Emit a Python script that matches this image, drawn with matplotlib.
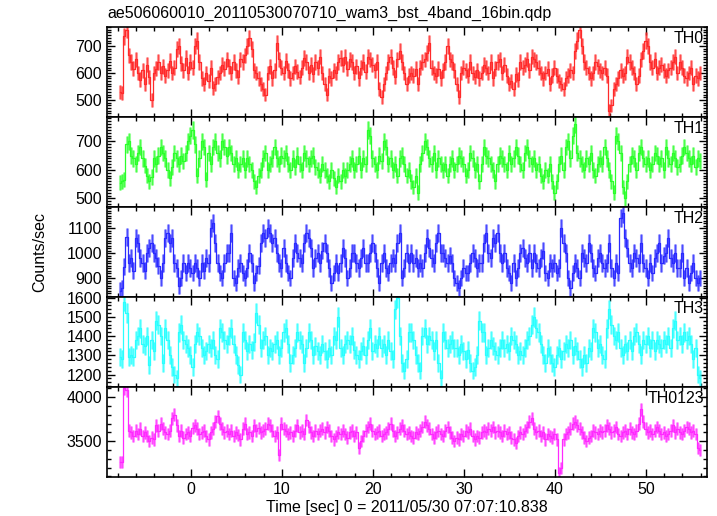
import matplotlib
matplotlib.use("Agg")
import matplotlib.pyplot as plt
from matplotlib.ticker import MultipleLocator
import numpy as np

plt.rcParams["font.family"] = ["Liberation Sans", "DejaVu Sans"]

title = "ae506060010_20110530070710_wam3_bst_4band_16bin.qdp"
xlabel = "Time [sec] 0 = 2011/05/30 07:07:10.838"
ylabel = "Counts/sec"
bands = ["TH0", "TH1", "TH2", "TH3", "TH0123"]

t_start = -7.8   # first bin centre [sec]
bin_width = 0.25  # 16 x 1/64 s

th0 = [
    530, 525, 735, 760, 665, 640, 615, 650, 600, 575, 610, 560, 630, 585, 500, 600,
    615, 640, 600, 625, 590, 610, 645, 600, 620, 690, 700, 635, 610, 655, 600, 640,
    620, 700, 720, 640, 580, 560, 600, 570, 620, 545, 560, 585, 600, 630, 615, 650,
    625, 600, 640, 610, 585, 650, 640, 665, 700, 730, 690, 610, 600, 580, 560, 540,
    520, 600, 625, 580, 610, 710, 650, 620, 600, 645, 610, 580, 600, 625, 605, 585,
    620, 655, 640, 600, 630, 595, 640, 620, 660, 600, 560, 520, 590, 580, 610, 600,
    640, 655, 630, 660, 615, 650, 640, 600, 625, 580, 620, 640, 605, 660, 650, 630,
    610, 640, 540, 510, 560, 600, 640, 660, 620, 585, 650, 680, 640, 600, 560, 590,
    600, 590, 615, 560, 620, 640, 650, 675, 710, 620, 600, 590, 615, 580, 610, 640,
    700, 650, 640, 610, 560, 510, 600, 620, 610, 590, 640, 600, 585, 610, 580, 600,
    630, 620, 600, 640, 580, 615, 640, 650, 600, 630, 590, 560, 570, 540, 595, 575,
    640, 620, 630, 650, 610, 660, 650, 640, 620, 600, 580, 600, 615, 560, 590, 620,
    590, 570, 560, 540, 580, 590, 610, 600, 680, 720, 760, 700, 640, 620, 600, 580,
    600, 640, 625, 610, 600, 620, 590, 460, 480, 540, 560, 580, 610, 590, 600, 660,
    640, 620, 600, 560, 590, 650, 680, 720, 700, 640, 620, 650, 600, 620, 630, 610,
    590, 610, 620, 640, 660, 600, 640, 620, 590, 580, 600, 620, 560, 590, 580, 600,
]

th1 = [
    555, 560, 565, 690, 700, 650, 640, 620, 660, 680, 640, 615, 580, 560, 575, 640,
    620, 650, 680, 660, 640, 600, 570, 610, 660, 640, 620, 650, 630, 660, 700, 720,
    740, 690, 580, 640, 700, 680, 565, 660, 620, 680, 700, 660, 640, 700, 680, 650,
    680, 660, 620, 640, 600, 620, 640, 600, 640, 620, 600, 560, 540, 580, 600, 640,
    660, 600, 620, 640, 680, 640, 620, 650, 640, 660, 620, 600, 640, 610, 650, 620,
    600, 660, 640, 620, 640, 650, 610, 600, 580, 620, 600, 580, 560, 600, 570, 540,
    580, 560, 600, 580, 600, 620, 640, 600, 620, 650, 600, 640, 620, 740, 720, 640,
    620, 600, 650, 630, 700, 680, 620, 640, 600, 620, 580, 640, 650, 620, 580, 600,
    560, 540, 580, 520, 620, 660, 700, 680, 640, 620, 660, 600, 640, 620, 600, 620,
    580, 620, 640, 600, 620, 650, 640, 620, 580, 600, 660, 640, 600, 620, 560, 620,
    680, 650, 640, 620, 600, 560, 620, 650, 640, 620, 600, 660, 620, 640, 680, 650,
    620, 600, 660, 680, 640, 620, 640, 600, 620, 580, 560, 600, 580, 620, 560, 520,
    560, 620, 650, 600, 680, 700, 640, 720, 760, 660, 640, 620, 600, 640, 620, 660,
    600, 580, 620, 640, 620, 680, 640, 600, 560, 520, 720, 700, 660, 540, 500, 560,
    620, 650, 640, 600, 660, 680, 640, 620, 640, 600, 620, 660, 650, 620, 640, 600,
    680, 640, 620, 660, 640, 610, 620, 650, 680, 660, 640, 620, 650, 610, 640, 630,
]

th2 = [
    850, 860, 945, 1065, 960, 980, 930, 1060, 1040, 980, 960, 930, 1000, 1020, 1040, 1000,
    980, 950, 900, 960, 1060, 1080, 1040, 1060, 960, 940, 870, 900, 960, 920, 960, 940,
    920, 960, 940, 900, 960, 930, 980, 960, 1100, 1120, 1040, 960, 920, 900, 960, 1000,
    1000, 1080, 900, 880, 940, 960, 920, 900, 940, 1000, 960, 880, 920, 950, 1040, 1080,
    1060, 1100, 1080, 1040, 1060, 1000, 960, 940, 1020, 960, 920, 900, 980, 1040, 1000, 980,
    960, 1040, 1080, 1060, 1020, 940, 980, 1000, 960, 1010, 1040, 1000, 940, 880, 920, 960,
    920, 960, 1020, 980, 900, 940, 1000, 1000, 960, 940, 980, 1020, 960, 960, 1000, 1040,
    1000, 940, 880, 960, 1000, 940, 920, 960, 980, 960, 1040, 1080, 900, 940, 1000, 960,
    1000, 960, 980, 940, 960, 940, 1000, 1060, 1020, 980, 960, 1040, 1080, 1000, 1000, 980,
    960, 990, 960, 900, 880, 860, 900, 940, 920, 920, 960, 1000, 980, 940, 960, 960,
    1040, 1080, 1000, 980, 1060, 1040, 1080, 1000, 960, 1000, 940, 920, 880, 960, 900, 940,
    1000, 1020, 980, 960, 1000, 940, 1000, 960, 940, 980, 1010, 920, 900, 960, 940, 960,
    920, 940, 1100, 1040, 1000, 900, 860, 920, 960, 940, 900, 1000, 980, 960, 1040, 1000,
    940, 920, 980, 1000, 960, 940, 960, 1040, 940, 900, 960, 920, 1140, 1160, 1060, 1020,
    960, 940, 1000, 980, 960, 1040, 960, 940, 900, 960, 920, 980, 1000, 1040, 960, 990,
    1000, 1060, 980, 960, 1000, 940, 940, 1000, 900, 940, 880, 920, 960, 900, 880, 900,
]

th3 = [
    1290, 1280, 1580, 1520, 1290, 1300, 1290, 1380, 1400, 1440, 1360, 1350, 1400, 1250, 1380, 1320,
    1480, 1460, 1400, 1260, 1440, 1380, 1300, 1240, 1200, 1180, 1420, 1460, 1380, 1360, 1340, 1300,
    1240, 1360, 1420, 1400, 1340, 1300, 1320, 1360, 1340, 1380, 1300, 1280, 1440, 1420, 1380, 1360,
    1400, 1440, 1360, 1300, 1250, 1200, 1420, 1380, 1320, 1360, 1330, 1370, 1520, 1460, 1340, 1380,
    1400, 1300, 1340, 1320, 1360, 1380, 1300, 1340, 1420, 1440, 1360, 1260, 1300, 1340, 1420, 1380,
    1360, 1260, 1340, 1420, 1380, 1300, 1350, 1320, 1300, 1360, 1320, 1280, 1340, 1300, 1400, 1380,
    1500, 1340, 1300, 1360, 1380, 1360, 1400, 1330, 1300, 1280, 1320, 1350, 1300, 1380, 1440, 1320,
    1360, 1340, 1400, 1340, 1360, 1300, 1380, 1320, 1280, 1540, 1600, 1400, 1260, 1220, 1280, 1420,
    1420, 1380, 1300, 1260, 1220, 1400, 1440, 1360, 1400, 1380, 1320, 1380, 1260, 1180, 1420, 1380,
    1340, 1360, 1380, 1340, 1340, 1300, 1360, 1320, 1280, 1330, 1260, 1220, 1240, 1300, 1480, 1420,
    1420, 1300, 1340, 1380, 1350, 1320, 1300, 1340, 1380, 1340, 1360, 1320, 1400, 1380, 1360, 1300,
    1320, 1300, 1340, 1380, 1400, 1460, 1500, 1440, 1420, 1360, 1300, 1260, 1340, 1300, 1260, 1240,
    1300, 1340, 1280, 1320, 1360, 1340, 1380, 1300, 1350, 1320, 1280, 1240, 1300, 1260, 1340, 1320,
    1440, 1420, 1340, 1360, 1300, 1280, 1440, 1540, 1460, 1400, 1380, 1420, 1340, 1300, 1360, 1320,
    1380, 1320, 1400, 1420, 1360, 1300, 1380, 1360, 1400, 1340, 1380, 1320, 1380, 1360, 1340, 1380,
    1360, 1400, 1340, 1440, 1480, 1380, 1400, 1360, 1420, 1380, 1400, 1360, 1280, 1340, 1200, 1180,
]

th0123 = [
    3260, 3260, 4100, 4080, 3620, 3600, 3560, 3620, 3580, 3640, 3560, 3600, 3560, 3500, 3540, 3520,
    3680, 3620, 3700, 3640, 3600, 3580, 3620, 3760, 3800, 3680, 3560, 3620, 3540, 3580, 3600, 3560,
    3650, 3680, 3640, 3580, 3600, 3620, 3560, 3520, 3600, 3640, 3720, 3780, 3700, 3640, 3600, 3620,
    3580, 3620, 3560, 3600, 3570, 3520, 3640, 3700, 3580, 3600, 3560, 3680, 3620, 3650, 3600, 3620,
    3640, 3700, 3680, 3620, 3560, 3600, 3340, 3700, 3640, 3620, 3580, 3600, 3560, 3620, 3680, 3600,
    3620, 3580, 3740, 3660, 3600, 3560, 3620, 3580, 3620, 3640, 3600, 3660, 3620, 3560, 3520, 3560,
    3600, 3580, 3620, 3580, 3540, 3600, 3620, 3560, 3600, 3420, 3500, 3560, 3620, 3660, 3700, 3620,
    3580, 3600, 3620, 3560, 3580, 3600, 3640, 3700, 3620, 3560, 3600, 3640, 3680, 3620, 3580, 3600,
    3560, 3540, 3600, 3580, 3620, 3660, 3720, 3680, 3640, 3580, 3540, 3600, 3620, 3580, 3560, 3620,
    3660, 3600, 3540, 3500, 3540, 3520, 3580, 3560, 3620, 3600, 3640, 3560, 3520, 3560, 3540, 3600,
    3620, 3600, 3640, 3620, 3660, 3600, 3620, 3600, 3560, 3620, 3580, 3600, 3540, 3520, 3480, 3560,
    3600, 3580, 3620, 3660, 3720, 3760, 3640, 3600, 3620, 3560, 3600, 3520, 3580, 3560, 3540, 3580,
    3520, 3140, 3200, 3520, 3580, 3600, 3640, 3700, 3720, 3680, 3640, 3600, 3540, 3500, 3540, 3560,
    3620, 3600, 3580, 3620, 3600, 3620, 3680, 3640, 3600, 3620, 3660, 3580, 3560, 3600, 3620, 3580,
    3640, 3600, 3580, 3620, 3700, 3860, 3720, 3640, 3600, 3620, 3580, 3620, 3660, 3620, 3580, 3600,
    3560, 3580, 3620, 3680, 3600, 3640, 3600, 3580, 3620, 3660, 3640, 3600, 3620, 3580, 3420, 3400,
]

series = [th0, th1, th2, th3, th0123]
# effective exposure per bin used for the Poisson error bars
exposure = [0.8, 0.8, 0.8, 0.6, 0.7]

colors = ["#ff2a2a", "#2aff2a", "#2a2aff", "#2affff", "#ff2aff"]
ylims = [(437, 770), (470, 785), (824, 1184), (1135, 1604), (3094, 4114)]
major = [100, 100, 100, 100, 500]
minor = [10, 10, 10, 20, 100]

fig = plt.figure(figsize=(7.17, 5.16), dpi=100)
left, right = 107 / 717, 707 / 717
top, bottom = 1 - 27 / 516, 1 - 477 / 516
h = (top - bottom) / 5

axes = []
for i, (name, vals) in enumerate(zip(bands, series)):
    ax = fig.add_axes([left, top - (i + 1) * h, right - left, h])
    vals = np.array(vals, dtype=float)
    t = t_start + bin_width * np.arange(len(vals))
    err = np.sqrt(vals / exposure[i])
    ax.errorbar(t, vals, yerr=err, fmt="none", ecolor=colors[i], alpha=0.5,
                elinewidth=2.2, capsize=0)
    ax.step(t, vals, where="mid", color=colors[i], lw=0.9)
    ax.vlines(t, vals - err, vals + err, color=colors[i], lw=0.5)
    ax.set_xlim(-9.2, 56.7)
    ax.set_ylim(*ylims[i])
    ax.xaxis.set_major_locator(MultipleLocator(10))
    ax.xaxis.set_minor_locator(MultipleLocator(2))
    ax.yaxis.set_major_locator(MultipleLocator(major[i]))
    ax.yaxis.set_minor_locator(MultipleLocator(minor[i]))
    ax.tick_params(which="both", direction="in", top=True, right=True, width=1.0)
    ax.tick_params(which="major", length=6, labelsize=11.5)
    ax.tick_params(which="minor", length=3)
    for s in ax.spines.values():
        s.set_linewidth(1.2)
    if i < 4:
        ax.tick_params(labelbottom=False)
    ax.text(0.995, 0.96, name, transform=ax.transAxes, ha="right", va="top",
            fontsize=11.5)
    axes.append(ax)

axes[-1].set_xlabel(xlabel, fontsize=11.5, labelpad=2)
fig.text(left, 1 - 13 / 516, title, ha="left", va="center", fontsize=11.5)
fig.text(40 / 717, 0.5 * (top + bottom), ylabel, rotation=90, ha="center",
         va="center", fontsize=11.5)

fig.savefig("out.png", dpi=100)
